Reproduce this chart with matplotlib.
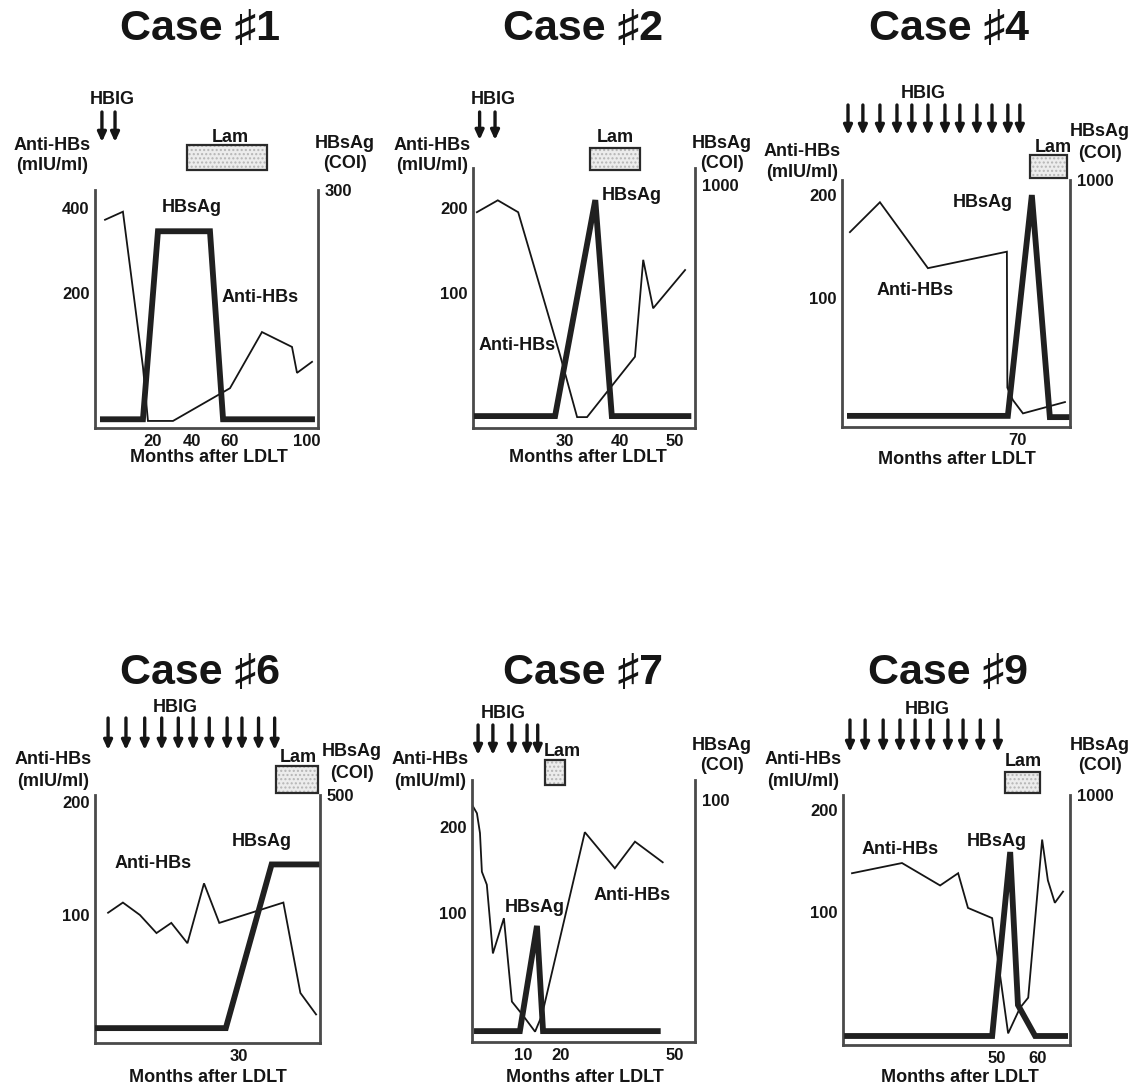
import matplotlib
matplotlib.use("Agg")
from matplotlib import pyplot as plt
from matplotlib import transforms
from matplotlib.patches import Rectangle

# ---- data (months after LDLT, Anti-HBs mIU/ml, HBsAg COI) ----
case_names = ["Case \u266f1", "Case \u266f2", "Case \u266f4", "Case \u266f6", "Case \u266f7", "Case \u266f9"]

anti_x1 = [-4.9, 4.4, 14.8, 17.4, 30.4, 60.0, 76.6, 92.2, 94.8, 102.6]
anti_y1 = [372, 391, 26, -101, -101, -24, 108, 73, 12, 38]
hbs_x1 = [-6.0, 14.8, 22.6, 49.6, 56.4, 102.6]
hbs_y1 = [11, 11, 248, 248, 11, 11]
hbig1 = [-6.5, 0.3]
lam1 = [37.7, 79.2]

anti_x2 = [14.0, 17.8, 21.5, 29.1, 32.2, 34.0, 42.7, 44.2, 46.0, 51.8]
anti_y2 = [195, 209, 195, 27, -46, -46, 25, 139, 82, 127]
hbs_x2 = [14.0, 28.2, 35.5, 38.5, 52.4]
hbs_y2 = [49, 49, 938, 49, 49]
hbig2 = [14.5, 17.3]
lam2 = [34.5, 43.6]

anti_x4 = [0, 12.5, 32.5, 65.4, 65.6, 67.9, 72.1, 89.6]
anti_y4 = [164, 193, 129, 145, 13, 1, -12, -1]
hbs_x4 = [0, 65.8, 75.8, 83.3, 90.8]
hbs_y4 = [45, 45, 939, 40, 40]
hbig4 = [-0.8, 5.4, 12.5, 19.6, 25.8, 32.5, 39.6, 45.8, 52.9, 59.2, 65.8, 70.8]
lam4 = [75.0, 90.4]

anti_x6 = [0, 3.4, 7.3, 11.1, 14.5, 18.2, 22.0, 25.5, 40.2, 44.1, 47.7]
anti_y6 = [102, 111, 100, 84, 93, 75, 128, 93, 111, 31, 12]
hbs_x6 = [-2.5, 27.0, 37.5, 48.2]
hbs_y6 = [30, 30, 360, 360]
hbig6 = [0, 4.1, 8.4, 12.3, 16.1, 19.5, 23.2, 27.3, 30.7, 34.5, 38.2]
lam6 = [38.6, 48.2]

anti_x7 = [-3.4, -2.1, -1.3, -0.8, 0.5, 2.1, 5.0, 7.1, 10.0, 13.2, 15.0, 26.3, 34.2, 39.5, 46.8]
anti_y7 = [226, 216, 193, 148, 133, 53, 94, -3, -19, -38, -19, 194, 152, 183, 159]
hbs_x7 = [-2.1, 9.2, 13.7, 15.3, 45.5]
hbs_y7 = [4.5, 4.5, 48, 4.5, 4.5]
hbig7 = [-1.8, 2.1, 7.1, 11.1, 13.9]
lam7 = [15.8, 21.1]

anti_x9 = [14.6, 26.8, 36.1, 40.5, 42.9, 48.8, 52.7, 55.6, 57.6, 61.0, 62.4, 64.1, 66.1]
anti_y9 = [138, 148, 126, 138, 104, 94, -19, 6, 16, 171, 131, 109, 120]
hbs_x9 = [13.4, 48.8, 53.2, 55.1, 59.3, 66.6]
hbs_y9 = [36, 36, 772, 160, 36, 36]
hbig9 = [14.1, 17.8, 22.2, 26.3, 30.0, 33.7, 38.0, 41.7, 45.9, 50.2]
lam9 = [52.0, 60.5]

xticks = [[20, 40, 60, 100], [30, 40, 50], [70], [30], [10, 20, 50], [50, 60]]
yticks = [[200, 400], [100, 200], [100, 200], [100, 200], [100, 200], [100, 200]]
right_ticks = [300, 1000, 1000, 500, 100, 1000]

cases = [
    (anti_x1, anti_y1, hbs_x1, hbs_y1, hbig1, lam1),
    (anti_x2, anti_y2, hbs_x2, hbs_y2, hbig2, lam2),
    (anti_x4, anti_y4, hbs_x4, hbs_y4, hbig4, lam4),
    (anti_x6, anti_y6, hbs_x6, hbs_y6, hbig6, lam6),
    (anti_x7, anti_y7, hbs_x7, hbs_y7, hbig7, lam7),
    (anti_x9, anti_y9, hbs_x9, hbs_y9, hbig9, lam9),
]

# ---- layout (pixels of a 1134x1087 canvas) ----
W, H = 1134, 1087
# axes box: left, top, right, bottom
boxes = [(95, 190, 318, 428), (473, 168, 695, 428), (842, 180, 1070, 427),
         (95, 795, 320, 1043), (472, 780, 695, 1042), (843, 795, 1070, 1045)]
xlims = [(-10.1, 105.7), (13.3, 53.6), (-3.3, 91.7), (-3.0, 48.6), (-3.4, 55.3), (12.4, 67.8)]
ylims = [(-117.6, 442), (-58.8, 247), (-25.2, 214.6), (-13.3, 206.2), (-50, 254.7), (-30.4, 214.7)]
rtops = [300, 1070, 1000, 500, 108.3, 1000]
arrow_y = [(112, 142), (112, 140), (105, 135), (718, 750), (725, 755), (720, 752)]
lam_y = [(145, 170), (148, 170), (155, 178), (766, 793), (760, 785), (772, 793)]
title_pos = [(200, 28), (583, 28), (949, 28), (200, 672), (583, 672), (948, 672)]
hbig_pos = [(112, 100), (493, 100), (923, 93), (175, 708), (503, 713), (927, 710)]
anti_lab = [(52, 145), (432, 145), (802, 152), (53, 760), (430, 760), (803, 760)]
lam_lab = [(230, 138), (615, 138), (1053, 148), (298, 757), (562, 752), (1023, 762)]
hbs_lab = [(345, 143), (722, 143), (1100, 132), (352, 752), (722, 745), (1100, 745)]
xlab_pos = [(209, 458), (588, 458), (957, 460), (208, 1077), (585, 1077), (960, 1077)]
hbs_note = [(192, 207), (632, 195), (983, 202), (262, 842), (535, 908), (997, 842)]
anti_note = [(260, 297), (517, 345), (915, 290), (153, 863), (632, 895), (900, 850)]

plt.rcParams['font.family'] = ['Liberation Sans', 'DejaVu Sans']
plt.rcParams['font.weight'] = 'bold'
FS = 13
TICK_FS = 12
INK = '#151515'
SPINE = '#4a4a4a'


def fx(px):
    return px / W


def fy(py):
    return 1 - py / H


fig = plt.figure(figsize=(W / 100, H / 100), dpi=100)


def txt(pos, s, size=FS, **kw):
    fig.text(fx(pos[0]), fy(pos[1]), s, ha='center', va='center', fontsize=size, color=INK, **kw)


for i, (ax_, ay_, hx_, hy_, hbig, lam) in enumerate(cases):
    l, t, r, b = boxes[i]
    ax = fig.add_axes([fx(l), fy(b), (r - l) / W, (b - t) / H])
    ax2 = ax.twinx()

    ax.plot(ax_, ay_, color=INK, lw=1.3, solid_joinstyle='miter')
    ax2.plot(hx_, hy_, color='#202020', lw=4.2, solid_joinstyle='miter')

    ax.set_xlim(*xlims[i])
    ax.set_ylim(*ylims[i])
    ax2.set_ylim(0, rtops[i])
    ax.set_xticks(xticks[i])
    ax.set_yticks(yticks[i])
    ax2.set_yticks([right_ticks[i]])
    ax.tick_params(length=0, labelsize=TICK_FS, pad=4, colors=INK)
    ax2.tick_params(length=0, labelsize=TICK_FS, pad=5, colors=INK)

    for s in ['top', 'right']:
        ax.spines[s].set_visible(False)
    for s in ['top', 'left', 'bottom']:
        ax2.spines[s].set_visible(False)
    for sp in [ax.spines['left'], ax.spines['bottom'], ax2.spines['right']]:
        sp.set_color(SPINE)
        sp.set_linewidth(2)

    # HBIG doses and lamivudine period drawn above the plot area
    blend = transforms.blended_transform_factory(ax.transData, fig.transFigure)
    y0, y1 = arrow_y[i]
    for m in hbig:
        ax.annotate('', xy=(m, fy(y1)), xytext=(m, fy(y0)), xycoords=blend, textcoords=blend,
                    annotation_clip=False,
                    arrowprops=dict(arrowstyle='-|>,head_length=0.55,head_width=0.25', lw=2.4,
                                    color=INK, shrinkA=0, shrinkB=0))
    ly0, ly1 = lam_y[i]
    ax.add_patch(Rectangle((lam[0], fy(ly1)), lam[1] - lam[0], fy(ly0) - fy(ly1), transform=blend,
                           clip_on=False, facecolor='#ececec', edgecolor='#b5b5b5', hatch='....', lw=0))
    ax.add_patch(Rectangle((lam[0], fy(ly1)), lam[1] - lam[0], fy(ly0) - fy(ly1), transform=blend,
                           clip_on=False, fill=False, edgecolor='#2a2a2a', lw=1.6))

    txt(title_pos[i], case_names[i], size=31)
    txt(hbig_pos[i], 'HBIG')
    txt(anti_lab[i], 'Anti-HBs')
    txt((anti_lab[i][0], anti_lab[i][1] + 21), '(mIU/ml)')
    txt(lam_lab[i], 'Lam')
    txt(hbs_lab[i], 'HBsAg')
    txt((hbs_lab[i][0], hbs_lab[i][1] + 21), '(COI)')
    txt(xlab_pos[i], 'Months after LDLT')
    txt(hbs_note[i], 'HBsAg')
    txt(anti_note[i], 'Anti-HBs')

fig.savefig('out.png', dpi=100, facecolor='white')
